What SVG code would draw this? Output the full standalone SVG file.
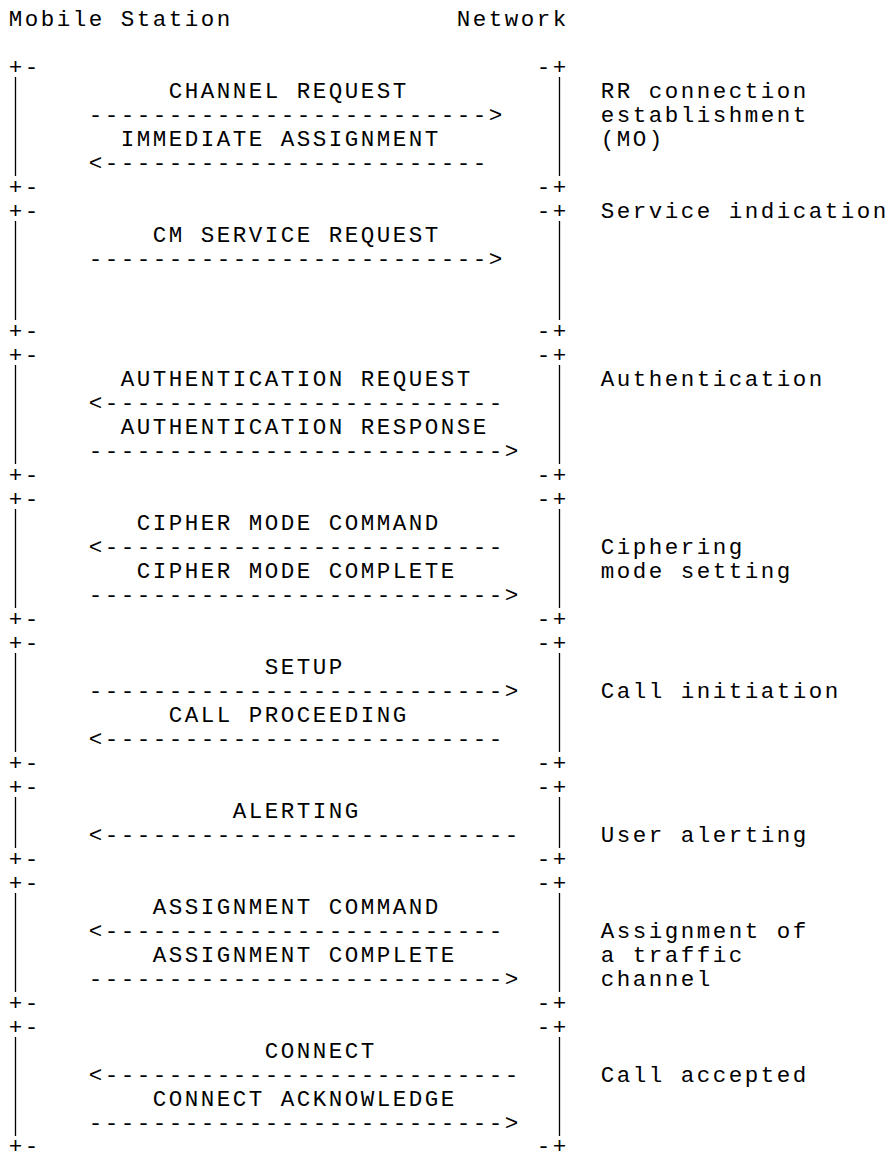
<svg xmlns="http://www.w3.org/2000/svg" width="893" height="1153" viewBox="0 0 893 1153">
<style>
text{font-family:"Courier New","Nimbus Mono PS","FreeMono","Liberation Mono",monospace;font-size:22.5px;letter-spacing:2.5px;fill:#000}
.bar{stroke:#000;stroke-width:1.3;fill:none}
</style>
<rect width="893" height="1153" fill="#fff"/>
<g id="headers">
<text x="8.75" y="26">Mobile Station</text>
<text x="456.75" y="26">Network</text>
</g>
<g id="phase-rr">
<text x="8.75" y="74">+-</text><text x="536.75" y="74">-+</text>
<line class="bar" x1="15.5" y1="77" x2="15.5" y2="176"/><line class="bar" x1="559.5" y1="77" x2="559.5" y2="176"/>
<text x="8.75" y="194">+-</text><text x="536.75" y="194">-+</text>
<text x="168.75" y="98">CHANNEL REQUEST</text>
<text x="120.75" y="146">IMMEDIATE ASSIGNMENT</text>
<text x="600.75" y="98">RR connection</text>
<text x="600.75" y="122">establishment</text>
<text x="600.75" y="146">(MO)</text>
</g>
<g id="phase-service">
<text x="8.75" y="218">+-</text><text x="536.75" y="218">-+</text>
<line class="bar" x1="15.5" y1="221" x2="15.5" y2="320"/><line class="bar" x1="559.5" y1="221" x2="559.5" y2="320"/>
<text x="8.75" y="338">+-</text><text x="536.75" y="338">-+</text>
<text x="152.75" y="242">CM SERVICE REQUEST</text>
<text x="600.75" y="218">Service indication</text>
</g>
<g id="phase-auth">
<text x="8.75" y="362">+-</text><text x="536.75" y="362">-+</text>
<line class="bar" x1="15.5" y1="365" x2="15.5" y2="464"/><line class="bar" x1="559.5" y1="365" x2="559.5" y2="464"/>
<text x="8.75" y="482">+-</text><text x="536.75" y="482">-+</text>
<text x="120.75" y="386">AUTHENTICATION REQUEST</text>
<text x="120.75" y="434">AUTHENTICATION RESPONSE</text>
<text x="600.75" y="386">Authentication</text>
</g>
<g id="phase-cipher">
<text x="8.75" y="506">+-</text><text x="536.75" y="506">-+</text>
<line class="bar" x1="15.5" y1="509" x2="15.5" y2="608"/><line class="bar" x1="559.5" y1="509" x2="559.5" y2="608"/>
<text x="8.75" y="626">+-</text><text x="536.75" y="626">-+</text>
<text x="136.75" y="530">CIPHER MODE COMMAND</text>
<text x="136.75" y="578">CIPHER MODE COMPLETE</text>
<text x="600.75" y="554">Ciphering</text>
<text x="600.75" y="578">mode setting</text>
</g>
<g id="phase-call">
<text x="8.75" y="650">+-</text><text x="536.75" y="650">-+</text>
<line class="bar" x1="15.5" y1="653" x2="15.5" y2="752"/><line class="bar" x1="559.5" y1="653" x2="559.5" y2="752"/>
<text x="8.75" y="770">+-</text><text x="536.75" y="770">-+</text>
<text x="264.75" y="674">SETUP</text>
<text x="168.75" y="722">CALL PROCEEDING</text>
<text x="600.75" y="698">Call initiation</text>
</g>
<g id="phase-alert">
<text x="8.75" y="794">+-</text><text x="536.75" y="794">-+</text>
<line class="bar" x1="15.5" y1="797" x2="15.5" y2="848"/><line class="bar" x1="559.5" y1="797" x2="559.5" y2="848"/>
<text x="8.75" y="866">+-</text><text x="536.75" y="866">-+</text>
<text x="232.75" y="818">ALERTING</text>
<text x="600.75" y="842">User alerting</text>
</g>
<g id="phase-assign">
<text x="8.75" y="890">+-</text><text x="536.75" y="890">-+</text>
<line class="bar" x1="15.5" y1="893" x2="15.5" y2="992"/><line class="bar" x1="559.5" y1="893" x2="559.5" y2="992"/>
<text x="8.75" y="1010">+-</text><text x="536.75" y="1010">-+</text>
<text x="152.75" y="914">ASSIGNMENT COMMAND</text>
<text x="152.75" y="962">ASSIGNMENT COMPLETE</text>
<text x="600.75" y="938">Assignment of</text>
<text x="600.75" y="962">a traffic</text>
<text x="600.75" y="986">channel</text>
</g>
<g id="phase-connect">
<text x="8.75" y="1034">+-</text><text x="536.75" y="1034">-+</text>
<line class="bar" x1="15.5" y1="1037" x2="15.5" y2="1136"/><line class="bar" x1="559.5" y1="1037" x2="559.5" y2="1136"/>
<text x="8.75" y="1153">+-</text><text x="536.75" y="1153">-+</text>
<text x="264.75" y="1058">CONNECT</text>
<text x="152.75" y="1106">CONNECT ACKNOWLEDGE</text>
<text x="600.75" y="1082">Call accepted</text>
</g>
<g id="connectors">
<text x="88.75" y="122">-------------------------&gt;</text>
<text x="88.75" y="170">&lt;------------------------</text>
<text x="88.75" y="266">-------------------------&gt;</text>
<text x="88.75" y="410">&lt;-------------------------</text>
<text x="88.75" y="458">--------------------------&gt;</text>
<text x="88.75" y="554">&lt;-------------------------</text>
<text x="88.75" y="602">--------------------------&gt;</text>
<text x="88.75" y="698">--------------------------&gt;</text>
<text x="88.75" y="746">&lt;-------------------------</text>
<text x="88.75" y="842">&lt;--------------------------</text>
<text x="88.75" y="938">&lt;-------------------------</text>
<text x="88.75" y="986">--------------------------&gt;</text>
<text x="88.75" y="1082">&lt;--------------------------</text>
<text x="88.75" y="1130">--------------------------&gt;</text>
</g>
</svg>
